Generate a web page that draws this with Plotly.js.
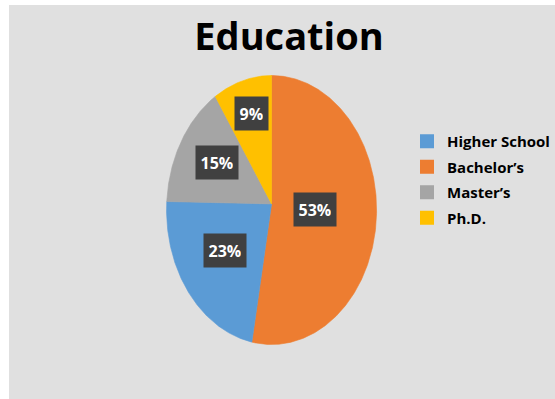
<!DOCTYPE html>
<html>
<head>
<meta charset="utf-8">
<script src="https://cdn.plot.ly/plotly-3.0.1.min.js"></script>
<style>
  html, body { margin: 0; padding: 0; background: #ffffff; width: 555px; height: 399px; overflow: hidden; }
  #chart { position: absolute; left: 9px; top: 5px; width: 546px; height: 394px; }
</style>
</head>
<body>
<div id="chart"></div>
<script>
// ---- data ----
const categories = ['Higher School', 'Bachelor\u2019s', 'Master\u2019s', 'Ph.D.'];
const shares = [23, 53, 15, 9];           // percent
const sliceOrder = [1, 0, 2, 3];          // clockwise from 12 o'clock
const colors = ['#5b9bd5', '#ed7d31', '#a5a5a5', '#ffc000'];

// ---- layout constants ----
const LABEL_R = [0.563, 0.419, 0.604, 0.699];  // radial placement of the value boxes
const APEX_Y = 0.045;                           // slices meet slightly above the ellipse centre
const W = 546, H = 394;
const CX = 265, CY = 205, RX = 106, RY = 134.5;  // pie centre / semi-axes in px

const total = shares.reduce((a, b) => a + b, 0);
const traces = [];
const annotations = [];
let start = 0;
sliceOrder.forEach(idx => {
  const sweep = 360 * shares[idx] / total;
  const end = start + sweep;
  const xs = [0], ys = [APEX_Y];
  const n = Math.max(8, Math.ceil(sweep * 2));
  for (let k = 0; k <= n; k++) {
    const t = (start + sweep * k / n) * Math.PI / 180;
    xs.push(Math.sin(t));
    ys.push(Math.cos(t));
  }
  xs.push(0); ys.push(APEX_Y);
  traces.push({
    type: 'scatter', mode: 'lines', x: xs, y: ys, fill: 'toself',
    fillcolor: colors[idx], line: {color: colors[idx], width: 0.6},
    hoverinfo: 'skip', showlegend: false
  });
  const mid = (start + sweep / 2) * Math.PI / 180;
  annotations.push({
    x: LABEL_R[idx] * Math.sin(mid), y: APEX_Y + LABEL_R[idx] * Math.cos(mid),
    xref: 'x', yref: 'y', showarrow: false,
    text: shares[idx] + '%',
    font: {family: 'Open Sans', size: 16, color: '#ffffff', weight: 'bold'},
    bgcolor: '#404040', borderpad: 4.5, height: 24,
    xanchor: 'center', yanchor: 'middle'
  });
  start = end;
});

// legend entries in category order
categories.forEach((name, i) => {
  traces.push({
    type: 'scatter', mode: 'markers', x: [null], y: [null], name: name,
    legendgroup: 'g' + i,
    marker: {symbol: 'square', size: 14, color: colors[i]},
    hoverinfo: 'skip', showlegend: true
  });
});

const layout = {
  width: W, height: H,
  margin: {l: 0, r: 0, t: 0, b: 0},
  paper_bgcolor: '#e0e0e0', plot_bgcolor: 'rgba(0,0,0,0)',
  title: {
    text: '<b>Education</b>',
    font: {family: 'Open Sans', size: 38, color: '#000000'},
    x: 280 / W, xanchor: 'center', xref: 'container',
    y: 1 - 32 / H, yanchor: 'middle', yref: 'container'
  },
  xaxis: {range: [-CX / RX, (W - CX) / RX], visible: false, fixedrange: true},
  yaxis: {range: [-(H - CY) / RY, CY / RY], visible: false, fixedrange: true},
  showlegend: true,
  legend: {
    x: 402 / W, xanchor: 'left', y: 1 - 120 / H, yanchor: 'top',
    bgcolor: 'rgba(0,0,0,0)', tracegroupgap: 3,
    font: {family: 'Open Sans', size: 15, color: '#000000', weight: 'bold'}
  },
  annotations: annotations
};

Plotly.newPlot('chart', traces, layout, {displayModeBar: false, staticPlot: true});
</script>
</body>
</html>
